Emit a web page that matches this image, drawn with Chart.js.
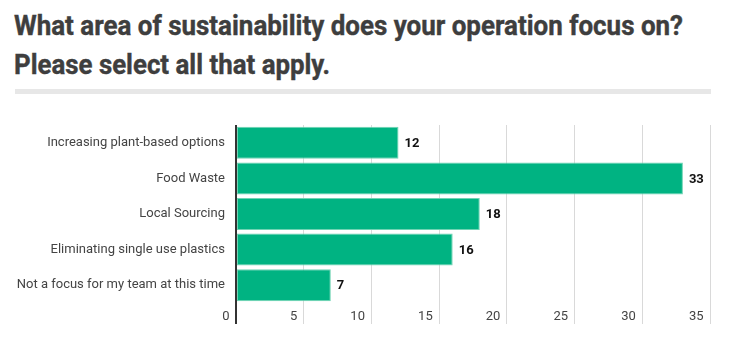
<!DOCTYPE html>
<html>
<head>
<meta charset="utf-8">
<script src="https://cdn.jsdelivr.net/npm/chart.js@4"></script>
<style>
  html, body { margin: 0; padding: 0; background: #fff; }
  body { width: 736px; height: 354px; position: relative; overflow: hidden; }
  .title { position: absolute; left: 14px; font-family: Roboto, sans-serif; font-weight: 700; font-size: 27px; color: #3e3e3e; white-space: nowrap; transform-origin: 0 0; line-height: 1; -webkit-text-stroke: 0.4px #3e3e3e; }
  #t1 { top: 13px; }
  #t2 { top: 52px; }
  .rule { position: absolute; left: 15px; top: 89px; width: 696px; height: 5px; background: #e7e7e7; }
  #wrap { position: absolute; left: 0; top: 100px; width: 736px; height: 254px; }
</style>
</head>
<body>
<div class="title" id="t1">What area of sustainability does your operation focus on?</div>
<div class="title" id="t2">Please select all that apply.</div>
<div class="rule"></div>
<div id="wrap"><canvas id="c"></canvas></div>
<script>
const categories = [
  "Increasing plant-based options",
  "Food Waste",
  "Local Sourcing",
  "Eliminating single use plastics",
  "Not a focus for my team at this time"
];
const responses = [12, 33, 18, 16, 7];
const tickValues = [0, 5, 10, 15, 20, 25, 30, 35];

// fit title widths to reference
function fit(id, w) {
  const el = document.getElementById(id);
  const s = w / el.getBoundingClientRect().width;
  el.style.transform = 'scaleX(' + s + ')';
}
fit('t1', 669);
fit('t2', 316);

const valueLabels = {
  id: 'valueLabels',
  afterDatasetsDraw(chart) {
    const ctx = chart.ctx;
    const meta = chart.getDatasetMeta(0);
    ctx.save();
    ctx.font = 'bold 13px Roboto, sans-serif';
    ctx.fillStyle = '#111';
    ctx.textAlign = 'left';
    ctx.textBaseline = 'middle';
    meta.data.forEach((bar, i) => {
      ctx.fillText(String(chart.data.datasets[0].data[i]), bar.x + 6, bar.y + 1);
    });
    ctx.restore();
  }
};

new Chart(document.getElementById('c'), {
  type: 'bar',
  data: {
    labels: categories,
    datasets: [{
      data: responses,
      backgroundColor: '#00b382',
      borderColor: '#6fd3b3',
      borderWidth: 1,
      borderSkipped: false,
      barPercentage: 0.9,
      categoryPercentage: 1.0
    }]
  },
  options: {
    indexAxis: 'y',
    responsive: true,
    maintainAspectRatio: false,
    animation: false,
    layout: { padding: { top: 25, right: 26, bottom: 0, left: 0 } },
    plugins: { legend: { display: false }, tooltip: { enabled: false } },
    scales: {
      x: {
        min: 0, max: 35,
        afterBuildTicks(scale) { scale.ticks = tickValues.map(v => ({ value: v })); },
        grid: {
          color: ctx => ctx.tick && ctx.tick.value === 0 ? '#333' : '#d9d9d9',
          lineWidth: ctx => ctx.tick && ctx.tick.value === 0 ? 2 : 1,
          tickLength: 21,
          drawTicks: true
        },
        border: { display: false },
        ticks: {
          align: 'end',
          padding: -15,
          color: '#444',
          font: { family: 'Roboto, sans-serif', size: 13 },
          callback: v => v + '  '
        },
        afterFit(scale) { scale.height = 51; }
      },
      y: {
        grid: { display: false, drawTicks: false },
        border: { display: false },
        ticks: {
          padding: 11,
          color: '#444',
          font: { family: 'Roboto, sans-serif', size: 13 }
        },
        afterFit(scale) { scale.width = 236; }
      }
    }
  },
  plugins: [valueLabels]
});
</script>
</body>
</html>
